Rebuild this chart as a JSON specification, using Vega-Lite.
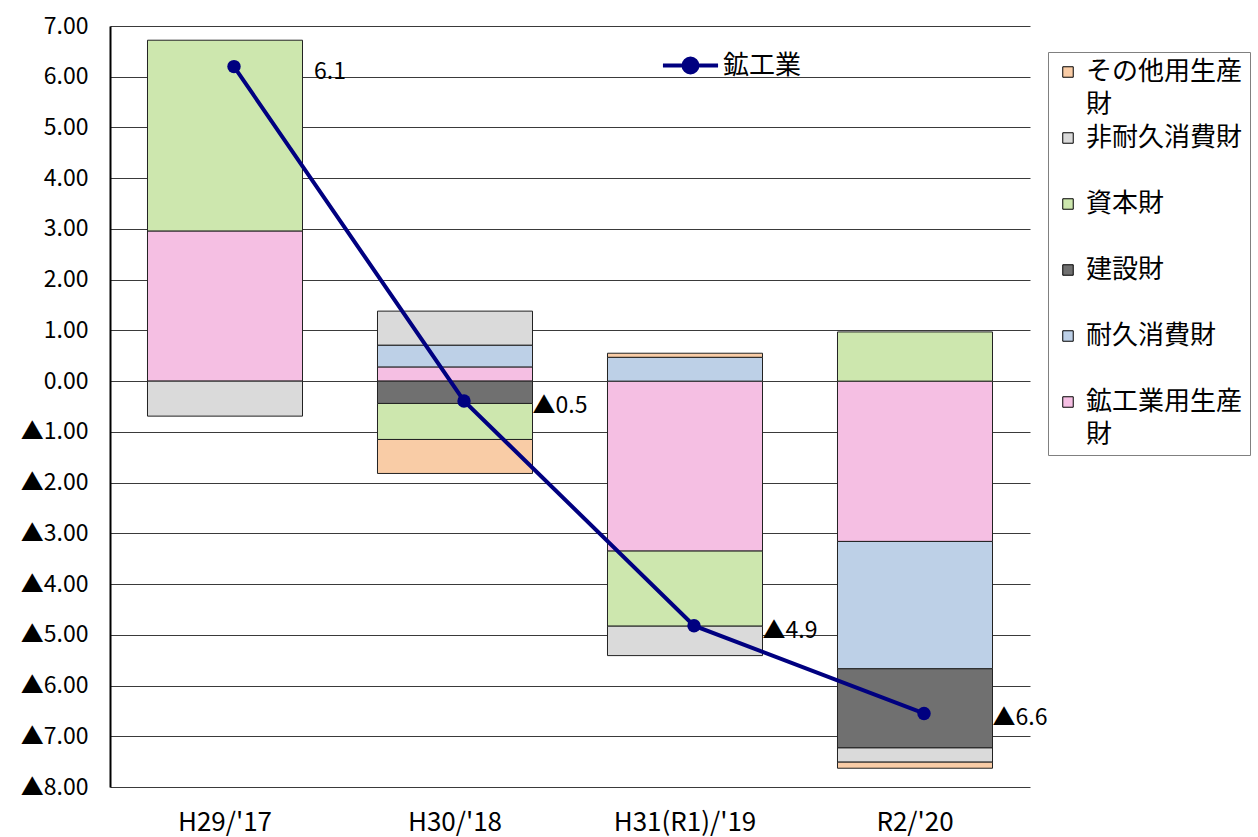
{
  "$schema": "https://vega.github.io/schema/vega-lite/v6.json",
  "width": 920,
  "height": 761,
  "autosize": {"type": "none"},
  "padding": {"left": 110, "top": 26, "right": 228, "bottom": 50},
  "background": "white",
  "config": {
    "view": {"stroke": null},
    "font": "Noto Sans CJK JP",
    "style": {"guide-label": {"lineHeight": 33}}
  },
  "datasets": {
    "bars": [
      {"year": "H29/'17", "category": "鉱工業用生産財", "series_no": 1, "value": 2.96},
      {"year": "H29/'17", "category": "資本財", "series_no": 4, "value": 3.76},
      {"year": "H29/'17", "category": "非耐久消費財", "series_no": 5, "value": -0.69},
      {"year": "H30/'18", "category": "鉱工業用生産財", "series_no": 1, "value": 0.28},
      {"year": "H30/'18", "category": "耐久消費財", "series_no": 2, "value": 0.43},
      {"year": "H30/'18", "category": "建設財", "series_no": 3, "value": -0.44},
      {"year": "H30/'18", "category": "資本財", "series_no": 4, "value": -0.71},
      {"year": "H30/'18", "category": "非耐久消費財", "series_no": 5, "value": 0.67},
      {"year": "H30/'18", "category": "その他用生産財", "series_no": 6, "value": -0.67},
      {"year": "H31(R1)/'19", "category": "鉱工業用生産財", "series_no": 1, "value": -3.35},
      {"year": "H31(R1)/'19", "category": "耐久消費財", "series_no": 2, "value": 0.47},
      {"year": "H31(R1)/'19", "category": "資本財", "series_no": 4, "value": -1.48},
      {"year": "H31(R1)/'19", "category": "非耐久消費財", "series_no": 5, "value": -0.58},
      {"year": "H31(R1)/'19", "category": "その他用生産財", "series_no": 6, "value": 0.08},
      {"year": "R2/'20", "category": "鉱工業用生産財", "series_no": 1, "value": -3.16},
      {"year": "R2/'20", "category": "耐久消費財", "series_no": 2, "value": -2.51},
      {"year": "R2/'20", "category": "建設財", "series_no": 3, "value": -1.56},
      {"year": "R2/'20", "category": "資本財", "series_no": 4, "value": 0.97},
      {"year": "R2/'20", "category": "非耐久消費財", "series_no": 5, "value": -0.28},
      {"year": "R2/'20", "category": "その他用生産財", "series_no": 6, "value": -0.12}
    ],
    "line": [
      {"year": "H29/'17", "series": "鉱工業", "value": 6.2, "label": "6.1"},
      {"year": "H30/'18", "series": "鉱工業", "value": -0.39, "label": "▲0.5"},
      {"year": "H31(R1)/'19", "series": "鉱工業", "value": -4.82, "label": "▲4.9"},
      {"year": "R2/'20", "series": "鉱工業", "value": -6.55, "label": "▲6.6"}
    ]
  },
  "layer": [
    {
      "data": {"name": "bars"},
      "mark": {"type": "bar", "stroke": "#222222", "strokeWidth": 1},
      "encoding": {
        "x": {
          "field": "year", "type": "nominal",
          "sort": ["H29/'17", "H30/'18", "H31(R1)/'19", "R2/'20"],
          "scale": {"paddingInner": 0.326, "paddingOuter": 0.163},
          "axis": {"title": null, "orient": "bottom", "domain": false, "ticks": false, "labelAngle": 0, "labelFontSize": 26, "labelPadding": 22, "labelColor": "#000000", "labelFont": "Noto Sans CJK JP"}
        },
        "y": {
          "field": "value", "type": "quantitative", "stack": "zero",
          "scale": {"domain": [-8, 7], "nice": false, "zero": false},
          "axis": {
            "title": null,
            "values": [-8, -7, -6, -5, -4, -3, -2, -1, 0, 1, 2, 3, 4, 5, 6, 7],
            "labelExpr": "datum.value < 0 ? '▲' + format(-datum.value, '.2f') : format(datum.value, '.2f')",
            "grid": true, "gridColor": "#3a3a3a", "gridWidth": 1,
            "domain": true, "domainColor": "#000000", "domainWidth": 2,
            "ticks": false, "labelFontSize": 23, "labelPadding": 22, "labelColor": "#000000", "labelFont": "Noto Sans CJK JP"
          }
        },
        "fill": {
          "field": "category", "type": "nominal",
          "scale": {
            "domain": ["その他用生産財", "非耐久消費財", "資本財", "建設財", "耐久消費財", "鉱工業用生産財"],
            "range": ["#f9cca6", "#dadada", "#cde7ae", "#707070", "#bdd0e7", "#f5bfe3"]
          },
          "legend": {
            "orient": "none", "legendX": 938, "legendY": 26,
            "title": null,
            "direction": "vertical",
            "padding": 7,
            "strokeColor": "#808080",
            "fillColor": "#ffffff",
            "symbolType": "square", "symbolSize": 110,
            "symbolStrokeColor": "#000000", "symbolStrokeWidth": 1,
            "labelFontSize": 26, "labelFont": "Noto Sans CJK JP", "labelColor": "#000000",
            "labelOffset": 5, "labelLimit": 300,
            "rowPadding": 7,
            "labelExpr": "length(datum.label) > 6 ? [substring(datum.label, 0, 6), substring(datum.label, 6)] : [datum.label, '']"
          }
        },
        "order": {"field": "series_no", "type": "quantitative"}
      }
    },
    {
      "mark": {"type": "rule", "color": "#000000", "strokeWidth": 3},
      "encoding": {"y": {"datum": 0, "type": "quantitative"}}
    },
    {
      "data": {"name": "line"},
      "mark": {"type": "line", "strokeWidth": 4, "xOffset": 9},
      "encoding": {
        "x": {"field": "year", "type": "nominal", "sort": ["H29/'17", "H30/'18", "H31(R1)/'19", "R2/'20"]},
        "y": {"field": "value", "type": "quantitative", "title": null},
        "stroke": {
          "field": "series", "type": "nominal",
          "scale": {"domain": ["鉱工業"], "range": ["#000080"]},
          "legend": {
            "orient": "none", "legendX": 560, "legendY": 19, "title": null, "padding": 0,
            "symbolType": "M-1.5,0L1.5,0M-0.38,0A0.38,0.38,0,1,0,0.38,0A0.38,0.38,0,1,0,-0.38,0",
            "symbolSize": 1350, "symbolStrokeWidth": 4,
            "symbolFillColor": "#000080", "symbolStrokeColor": "#000080",
            "labelFontSize": 26, "labelFont": "Noto Sans CJK JP", "labelColor": "#000000", "labelOffset": 12
          }
        }
      }
    },
    {
      "data": {"name": "line"},
      "mark": {"type": "point", "filled": true, "size": 180, "color": "#000080", "opacity": 1, "xOffset": 9},
      "encoding": {
        "x": {"field": "year", "type": "nominal", "sort": ["H29/'17", "H30/'18", "H31(R1)/'19", "R2/'20"]},
        "y": {"field": "value", "type": "quantitative", "title": null}
      }
    },
    {
      "data": {"name": "line"},
      "mark": {"type": "text", "align": "center", "baseline": "middle", "dx": 105, "dy": 5, "fontSize": 23, "color": "#000000", "font": "Noto Sans CJK JP"},
      "encoding": {
        "x": {"field": "year", "type": "nominal", "sort": ["H29/'17", "H30/'18", "H31(R1)/'19", "R2/'20"]},
        "y": {"field": "value", "type": "quantitative", "title": null},
        "text": {"field": "label"}
      }
    }
  ]
}
